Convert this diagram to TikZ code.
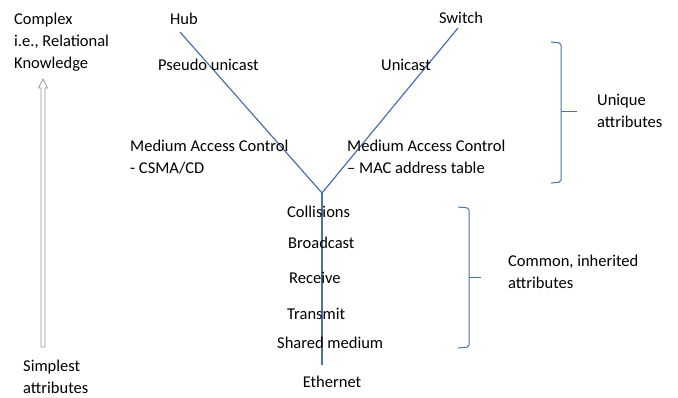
\documentclass[tikz,border=0pt]{standalone}
\usepackage{fontspec}
\setmainfont{Carlito}
\definecolor{linkblue}{RGB}{74,112,174}
\definecolor{arrowgray}{RGB}{150,150,150}

\begin{document}
\begin{tikzpicture}[x=1pt, y=-1pt, every node/.style={font=\fontsize{16.5}{22}\selectfont, inner sep=0pt, align=left}]
\tikzset{
  txt/.style={anchor=west},
  link/.style={draw=linkblue, line width=1.2pt},
  brace/.style={draw=linkblue, line width=1pt, rounded corners=2pt},
}
\useasboundingbox (0,0) rectangle (678,397);
% scale on the left
\node[txt] (complex) at (14,42) {Complex\\i.e., Relational\\Knowledge};
\node[txt] (simplest) at (23,377) {Simplest\\attributes};
\draw[arrowgray, line width=0.8pt] (41,347) -- (41,88) -- (38.5,88) -- (43,79) -- (47.5,88) -- (45,88) -- (45,347) -- cycle;
% the Y
\node (hub) at (184,19) {Hub};
\node (switch) at (461,18) {Switch};
\node (ethernet) at (332,382) {Ethernet};
\coordinate (hubtop) at (180,32);
\coordinate (switchtop) at (458,28);
\coordinate (fork) at (322,193);
\coordinate (stemend) at (322,365);
\draw[link] (hubtop) -- (fork) -- (switchtop);
\draw[link] (fork) -- (stemend);
% unique attributes
\node[txt] (pseudo) at (158,65) {Pseudo unicast};
\node[txt] (unicast) at (381,65) {Unicast};
\node[txt] (maccsma) at (130,157.5) {Medium Access Control\\- CSMA/CD};
\node[txt] (mactable) at (347,157) {Medium Access Control\\– MAC address table};
% common attributes
\node[txt] (coll) at (287,212) {Collisions};
\node[txt] (bcast) at (288,243) {Broadcast};
\node[txt] (recv) at (289,278) {Receive};
\node[txt] (trans) at (287,314) {Transmit};
\node[txt] (shared) at (277,343) {Shared medium};
% braces
\draw[brace] (551,42) -- (561,43) -- (561,182) -- (551,183);
\draw[brace] (561,111) -- (577,111);
\node[txt] (unique) at (597,110.5) {Unique\\attributes};
\draw[brace] (458,207) -- (469,208) -- (469,347) -- (458,348);
\draw[brace] (469,277) -- (481,277);
\node[txt] (common) at (508,272) {Common, inherited\\attributes};
\end{tikzpicture}
\end{document}
